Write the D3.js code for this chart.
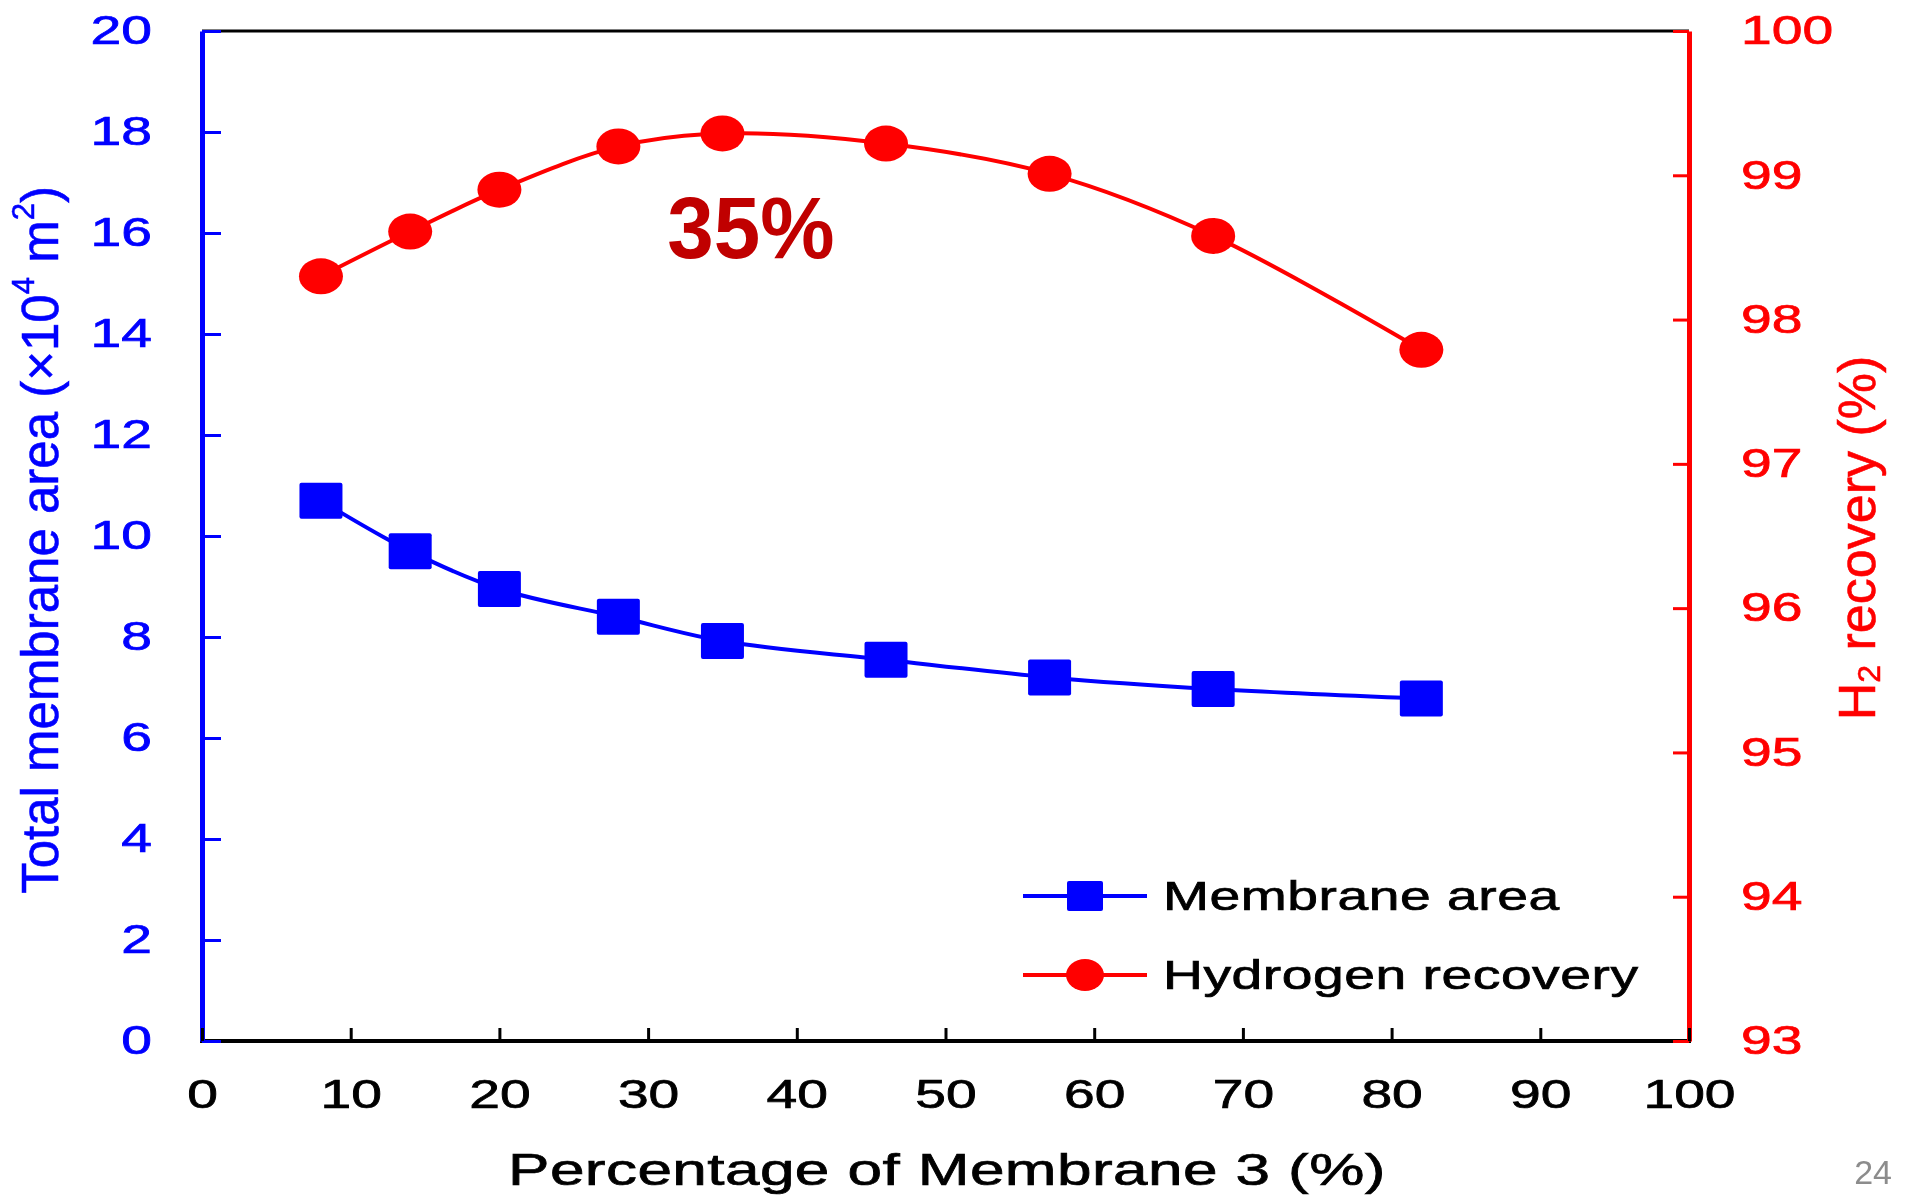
<!DOCTYPE html>
<html>
<head>
<meta charset="utf-8">
<script src="https://cdn.jsdelivr.net/npm/d3@7"></script>
<style>
  html, body { margin: 0; padding: 0; background: #fff; }
  svg { display: block; }
  text { font-family: "Liberation Sans", Arial, Helvetica, sans-serif; }
</style>
</head>
<body>
<svg id="chart" width="1906" height="1196"></svg>
<script>
// Share of membrane 3 in the cascade (%)
const membrane3Share = [8, 14, 20, 28, 35, 46, 57, 68, 82];
// Total membrane area (x10^4 m^2)
const membraneArea = [10.7, 9.7, 8.95, 8.4, 7.92, 7.55, 7.2, 6.97, 6.78];
// Hydrogen recovery (%)
const hydrogenRecovery = [98.30, 98.61, 98.90, 99.20, 99.29, 99.22, 99.01, 98.58, 97.79];

const xTicks = [0, 10, 20, 30, 40, 50, 60, 70, 80, 90, 100];
const leftTicks = [0, 2, 4, 6, 8, 10, 12, 14, 16, 18, 20];
const rightTicks = [93, 94, 95, 96, 97, 98, 99, 100];
const optimumLabel = "35%";

const BLUE = "#0000ff", RED = "#ff0000", DARKRED = "#c00000";
const STRETCH = 1.38; // horizontal widening of the lettering

const svg = d3.select("#chart");
const defs = svg.append("defs");
defs.append("filter").attr("id", "soft")
  .append("feGaussianBlur").attr("stdDeviation", 0.6);

const root = svg.append("g").attr("filter", "url(#soft)");
const plot = { left: 202, right: 1689, top: 31, bottom: 1041 };

const x = d3.scaleLinear().domain([0, 100]).range([plot.left, plot.right]);
const yL = d3.scaleLinear().domain([0, 20]).range([plot.bottom, plot.top]);
const yR = d3.scaleLinear().domain([93, 100]).range([plot.bottom, plot.top]);

// widen axis labels around their anchor point
function widenLabels(g) {
  g.selectAll(".tick text").each(function () {
    const t = d3.select(this);
    const tx = +t.attr("x") || 0;
    const ty = +t.attr("y") || 0;
    t.attr("x", 0).attr("y", 0)
      .attr("transform", `translate(${tx},${ty}) scale(${STRETCH},1)`);
  });
}
function styleLabels(g, color) {
  g.selectAll(".tick text")
    .attr("fill", color).attr("stroke", color).attr("stroke-width", 0.7)
    .attr("font-size", 40).attr("font-family", "Liberation Sans, Arial, sans-serif");
}

// top frame line
root.append("line")
  .attr("x1", plot.left).attr("x2", plot.right)
  .attr("y1", plot.top).attr("y2", plot.top)
  .attr("stroke", "#000").attr("stroke-width", 3);

// bottom axis line (ticks are drawn later so they sit on top)
root.append("line")
  .attr("x1", plot.left - 2).attr("x2", plot.right + 2)
  .attr("y1", plot.bottom).attr("y2", plot.bottom)
  .attr("stroke", "#000").attr("stroke-width", 4);

// left axis
const gL = root.append("g").attr("transform", `translate(${plot.left},0)`)
  .call(d3.axisLeft(yL).tickValues(leftTicks).tickFormat(d3.format("d"))
    .tickSize(-19).tickPadding(50).tickSizeOuter(0));
gL.select(".domain").attr("stroke", BLUE).attr("stroke-width", 5);
gL.selectAll(".tick line").attr("stroke", BLUE).attr("stroke-width", 3);
styleLabels(gL, BLUE);
widenLabels(gL);

// right axis
const gR = root.append("g").attr("transform", `translate(${plot.right},0)`)
  .call(d3.axisRight(yR).tickValues(rightTicks).tickFormat(d3.format("d"))
    .tickSize(-16).tickPadding(52).tickSizeOuter(0));
gR.select(".domain").attr("stroke", RED).attr("stroke-width", 5);
gR.selectAll(".tick line").attr("stroke", RED).attr("stroke-width", 3);
styleLabels(gR, RED);
widenLabels(gR);

// bottom axis ticks and labels
const gX = root.append("g").attr("transform", `translate(0,${plot.bottom})`)
  .call(d3.axisBottom(x).tickValues(xTicks).tickFormat(d3.format("d"))
    .tickSize(-13).tickPadding(39).tickSizeOuter(0));
gX.select(".domain").remove();
gX.selectAll(".tick line").attr("stroke", "#000").attr("stroke-width", 3);
styleLabels(gX, "#000");
widenLabels(gX);

// text placed at a point, optionally widened and rotated
function placedText(px, py, opts) {
  const sx = opts.stretch == null ? STRETCH : opts.stretch;
  const g = root.append("g")
    .attr("transform", `translate(${px},${py}) scale(${sx},1)${opts.rotate ? ` rotate(${opts.rotate})` : ""}`);
  return g.append("text")
    .attr("text-anchor", opts.anchor || "middle")
    .attr("dominant-baseline", "central")
    .attr("font-size", opts.size)
    .attr("fill", opts.fill)
    .attr("stroke", opts.fill).attr("stroke-width", opts.weight == null ? 0.7 : opts.weight);
}

placedText(947, 1169, { size: 45, fill: "#000" })
  .attr("letter-spacing", 0.3)
  .text("Percentage of Membrane 3 (%)");

const lt = placedText(40, 540, { size: 51, fill: BLUE, rotate: -90, stretch: 1.0, weight: 0.6 });
lt.append("tspan").text("Total membrane area (×10");
lt.append("tspan").attr("font-size", 31).attr("dy", -17).text("4");
lt.append("tspan").attr("dy", 17).text(" m");
lt.append("tspan").attr("font-size", 31).attr("dy", -17).text("2");
lt.append("tspan").attr("dy", 17).text(")");

const rt = placedText(1857, 538, { size: 52, fill: RED, rotate: -90, stretch: 1.0, weight: 0.6 });
rt.append("tspan").text("H");
rt.append("tspan").attr("font-size", 32).attr("dy", 12).text("2");
rt.append("tspan").attr("dy", -12).text(" recovery (%)");

// data series
const areaPts = membrane3Share.map((v, i) => [v, membraneArea[i]]);
const recPts = membrane3Share.map((v, i) => [v, hydrogenRecovery[i]]);

const areaLine = d3.line().x(d => x(d[0])).y(d => yL(d[1])).curve(d3.curveCatmullRom.alpha(0.5));
const recLine = d3.line().x(d => x(d[0])).y(d => yR(d[1])).curve(d3.curveCatmullRom.alpha(0.5));

root.append("path").attr("d", areaLine(areaPts))
  .attr("fill", "none").attr("stroke", BLUE).attr("stroke-width", 4);
root.append("path").attr("d", recLine(recPts))
  .attr("fill", "none").attr("stroke", RED).attr("stroke-width", 4);

const SQ_W = 43, SQ_H = 36;
root.append("g").selectAll("rect").data(areaPts).join("rect")
  .attr("x", d => x(d[0]) - SQ_W / 2).attr("y", d => yL(d[1]) - SQ_H / 2)
  .attr("width", SQ_W).attr("height", SQ_H).attr("rx", 2)
  .attr("fill", BLUE);

root.append("g").selectAll("ellipse").data(recPts).join("ellipse")
  .attr("cx", d => x(d[0])).attr("cy", d => yR(d[1]))
  .attr("rx", 22).attr("ry", 18)
  .attr("fill", RED);

// optimum annotation
root.append("text")
  .attr("x", 0).attr("y", 0)
  .attr("text-anchor", "middle").attr("dominant-baseline", "central")
  .attr("font-size", 88).attr("font-weight", "bold")
  .attr("fill", DARKRED)
  .attr("transform", "translate(751,227) scale(0.95,1)")
  .text(optimumLabel);

// legend
const legend = [
  { label: "Membrane area", color: BLUE, shape: "square", y: 896 },
  { label: "Hydrogen recovery", color: RED, shape: "circle", y: 975 }
];
legend.forEach(item => {
  root.append("line").attr("x1", 1023).attr("x2", 1147)
    .attr("y1", item.y).attr("y2", item.y)
    .attr("stroke", item.color).attr("stroke-width", 4);
  if (item.shape === "square") {
    root.append("rect").attr("x", 1085 - 18).attr("y", item.y - 15)
      .attr("width", 36).attr("height", 30).attr("rx", 2).attr("fill", item.color);
  } else {
    root.append("ellipse").attr("cx", 1085).attr("cy", item.y)
      .attr("rx", 19).attr("ry", 16).attr("fill", item.color);
  }
  placedText(1163, item.y, { size: 40, fill: "#000", anchor: "start" })
    .attr("letter-spacing", 0.4).text(item.label);
});

// slide number
root.append("text").attr("x", 1892).attr("y", 1172)
  .attr("text-anchor", "end").attr("dominant-baseline", "central")
  .attr("font-size", 34).attr("fill", "#8c8c8c").text("24");
</script>
</body>
</html>
